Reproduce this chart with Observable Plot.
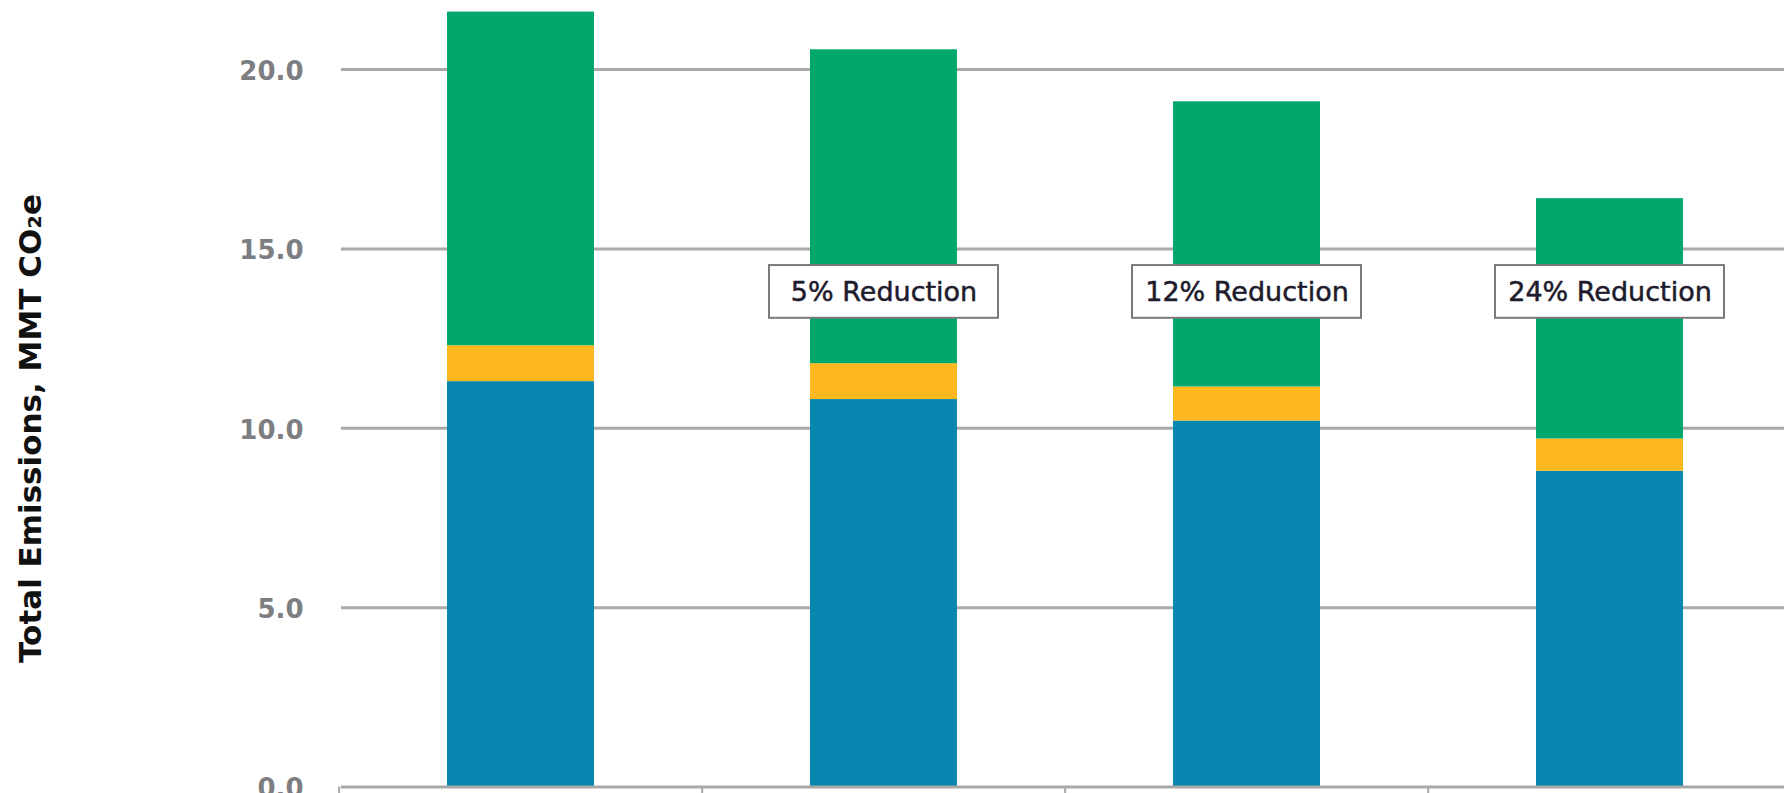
<!DOCTYPE html>
<html>
<head>
<meta charset="utf-8">
<script src="https://cdn.jsdelivr.net/npm/d3@7"></script>
<script src="https://cdn.jsdelivr.net/npm/@observablehq/plot@0.6"></script>
<style>
  html, body { margin: 0; padding: 0; background: #fff; }
  #chart svg { display: block; }
</style>
</head>
<body>
<div id="chart"></div>
<script>
// ---- data ----
const scenarios = ["Baseline", "Scenario 1", "Scenario 2", "Scenario 3"];
const sources = ["Source A", "Source B", "Source C"];        // bottom → top
const sourceA = [11.3, 10.8, 10.2, 8.8];                     // blue
const sourceB = [1.0, 1.0, 0.95, 0.9];                       // orange
const sourceC = [9.3, 8.75, 7.95, 6.7];                      // green
const reductionLabels = ["", "5% Reduction", "12% Reduction", "24% Reduction"];
const yTicks = [0, 5, 10, 15, 20];
const yTitle = "Total Emissions, MMT CO₂e";

// ---- build tables ----
const seriesValues = [sourceA, sourceB, sourceC];
const rows = [];
scenarios.forEach((s, i) => {
  sources.forEach((src, j) => rows.push({scenario: s, source: src, value: seriesValues[j][i]}));
});
const labels = scenarios.map((s, i) => ({scenario: s, text: reductionLabels[i]})).filter(d => d.text);

const step = 363.7, r0 = 337;
const labelY = 13.8, labelHalf = 0.735;
const font = "'DejaVu Sans', Verdana, sans-serif";

const chart = Plot.plot({
  width: 1784,
  height: 793,
  marginLeft: 341,
  marginRight: 0,
  marginTop: 0,
  marginBottom: 7,
  style: {fontFamily: font, background: "#fff"},
  x: {domain: scenarios, range: [r0, r0 + 4 * step], paddingInner: 0.596, paddingOuter: 0.298, axis: null},
  y: {domain: [0, 20], range: [786.5, 69], axis: null},
  color: {domain: sources, range: ["#0787B0", "#FDB71F", "#00A96B"]},
  marks: [
    Plot.ruleY(yTicks.filter(d => d > 0), {stroke: "#a9a9a9", strokeWidth: 3}),
    Plot.axisY({
      ticks: yTicks,
      tickFormat: d => d.toFixed(1),
      tickSize: 0,
      tickPadding: 38,
      fontSize: 26,
      fontWeight: 700,
      fill: "#7d7e81",
      dy: 2,
      label: null
    }),
    Plot.barY(rows, {x: "scenario", y: "value", fill: "source", order: sources}),
    Plot.ruleY([0], {stroke: "#a8a8a8", strokeWidth: 3}),
    Plot.ruleX(scenarios, {x: d => d, dx: -step / 2, y1: 0, y2: -0.3, stroke: "#a8a8a8", strokeWidth: 2}),
    Plot.rect(labels, {
      x: "scenario",
      y1: labelY - labelHalf,
      y2: labelY + labelHalf,
      insetLeft: -41,
      insetRight: -41,
      fill: "white",
      stroke: "#7a7a7a",
      strokeWidth: 2
    }),
    Plot.text(labels, {
      x: "scenario", y: labelY, text: "text",
      fontSize: 27, fontWeight: 400, fill: "#1e1b2c",
      stroke: "#1e1b2c", strokeWidth: 0.5
    }),
    Plot.text([yTitle], {
      text: d => d,
      frameAnchor: "left",
      rotate: -90,
      dx: -310,
      dy: 35,
      textAnchor: "middle",
      fontSize: 31,
      fontWeight: 700,
      fill: "#111"
    })
  ]
});
document.getElementById("chart").appendChild(chart);
</script>
</body>
</html>
